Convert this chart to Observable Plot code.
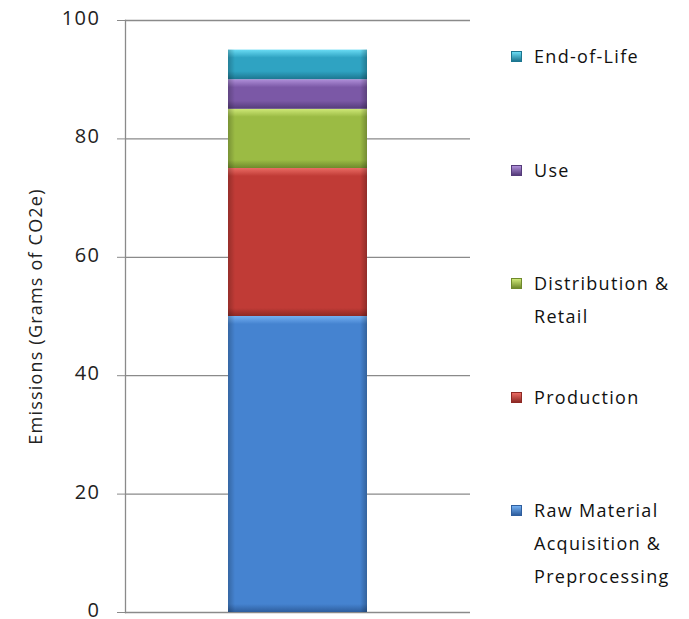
<!DOCTYPE html>
<html>
<head>
<meta charset="utf-8">
<script src="https://cdn.jsdelivr.net/npm/d3@7"></script>
<script src="https://cdn.jsdelivr.net/npm/@observablehq/plot@0.6"></script>
<style>
  html, body { margin: 0; padding: 0; background: #fff; }
  #wrap { position: relative; width: 689px; height: 619px; font-family: "Open Sans", sans-serif; }
  .leg { position: absolute; left: 511px; font-size: 18px; letter-spacing: 1.3px; color: #111; line-height: 33px; white-space: pre-line; }
  .sw { position: absolute; left: 0; top: 11px; width: 9px; height: 9px; }
  .lt { margin-left: 23px; }
</style>
</head>
<body>
<div id="wrap"></div>
<script>
const stages = ["Raw Material\nAcquisition &\nPreprocessing", "Production", "Distribution &\nRetail", "Use", "End-of-Life"];
const values = [50, 25, 10, 5, 5];
const colors = ["#4583d0", "#c03b36", "#9bbb44", "#7b58a6", "#2fa3c2"];
const lightColors = ["#74b0f2", "#ea6c64", "#cfe878", "#b090da", "#6adcf4"];
const darkColors = ["#2e5e9e", "#8e2925", "#6f8a2c", "#553b7a", "#1c7690"];
const yTicks = [0, 20, 40, 60, 80, 100];
const category = "Product";

const table = stages.map((s, i) => ({cat: category, stage: s, value: values[i], fill: `url(#grad${i})`}));

const chart = Plot.plot({
  width: 689,
  height: 619,
  marginLeft: 125,
  marginRight: 219,
  marginTop: 20,
  marginBottom: 7,
  style: {fontFamily: "Open Sans, sans-serif", background: "#fff", overflow: "visible"},
  x: {domain: [category], padding: 0.425, axis: null},
  y: {domain: [0, 100], ticks: yTicks},
  marks: [
    Plot.ruleY(yTicks, {stroke: "#8a8a8a", strokeWidth: 1.3}),
    Plot.barY(table, {x: "cat", y: "value", fill: "fill", order: null}),
    Plot.barY(table, {x: "cat", y: "value", fill: "url(#side)", order: null}),
    Plot.axisY({ticks: yTicks, tickSize: 8, tickPadding: 17, stroke: "#8a8a8a", fontSize: 20, fill: "#222",
      label: "Emissions (Grams of CO2e)", labelAnchor: "center", labelArrow: "none", labelOffset: 96}),
    Plot.frame({anchor: "left", stroke: "#8a8a8a", strokeWidth: 1.3})
  ]
});

const yScale = chart.scale("y");
const y = d3.scaleLinear().domain(yScale.domain).range(yScale.range);

// gradients for the bevelled bar look
const svg = d3.select(chart);
const defs = svg.insert("defs", ":first-child");
colors.forEach((c, i) => {
  const h = Math.abs(y(0) - y(values[i]));
  const e = 8 / h;
  const g = defs.append("linearGradient").attr("id", `grad${i}`).attr("x1", 0).attr("y1", 0).attr("x2", 0).attr("y2", 1);
  g.append("stop").attr("offset", 0).attr("stop-color", lightColors[i]);
  g.append("stop").attr("offset", e).attr("stop-color", c);
  g.append("stop").attr("offset", 1 - e).attr("stop-color", c);
  g.append("stop").attr("offset", 1).attr("stop-color", darkColors[i]);
});
const side = defs.append("linearGradient").attr("id", "side").attr("x1", 0).attr("y1", 0).attr("x2", 1).attr("y2", 0);
[[0, 0.22], [0.05, 0], [0.95, 0], [1, 0.25]].forEach(([o, a]) =>
  side.append("stop").attr("offset", o).attr("stop-color", "#000").attr("stop-opacity", a));

svg.selectAll("[aria-label='y-axis label']").style("font-size", "18px").style("letter-spacing", "1.2px").style("fill", "#222");
const tl = svg.selectAll("[aria-label='y-axis tick label']");
tl.style("letter-spacing", "1.5px");
tl.attr("transform", function() { return (this.getAttribute("transform") || "") + " translate(0,-2)"; });

const wrap = document.getElementById("wrap");
wrap.appendChild(chart);
chart.style.position = "absolute";
chart.style.left = "0";
chart.style.top = "0";

// legend: top to bottom in reverse stack order
const order = d3.range(stages.length).reverse();
order.forEach((i, k) => {
  const d = document.createElement("div");
  d.className = "leg";
  d.style.top = (40 + k * 113.6) + "px";
  const sw = document.createElement("div");
  sw.className = "sw";
  sw.style.background = `linear-gradient(${lightColors[i]}, ${darkColors[i]})`;
  sw.style.border = `1px solid ${darkColors[i]}`;
  const t = document.createElement("div");
  t.className = "lt";
  t.textContent = stages[i];
  d.appendChild(sw);
  d.appendChild(t);
  wrap.appendChild(d);
});
</script>
</body>
</html>
